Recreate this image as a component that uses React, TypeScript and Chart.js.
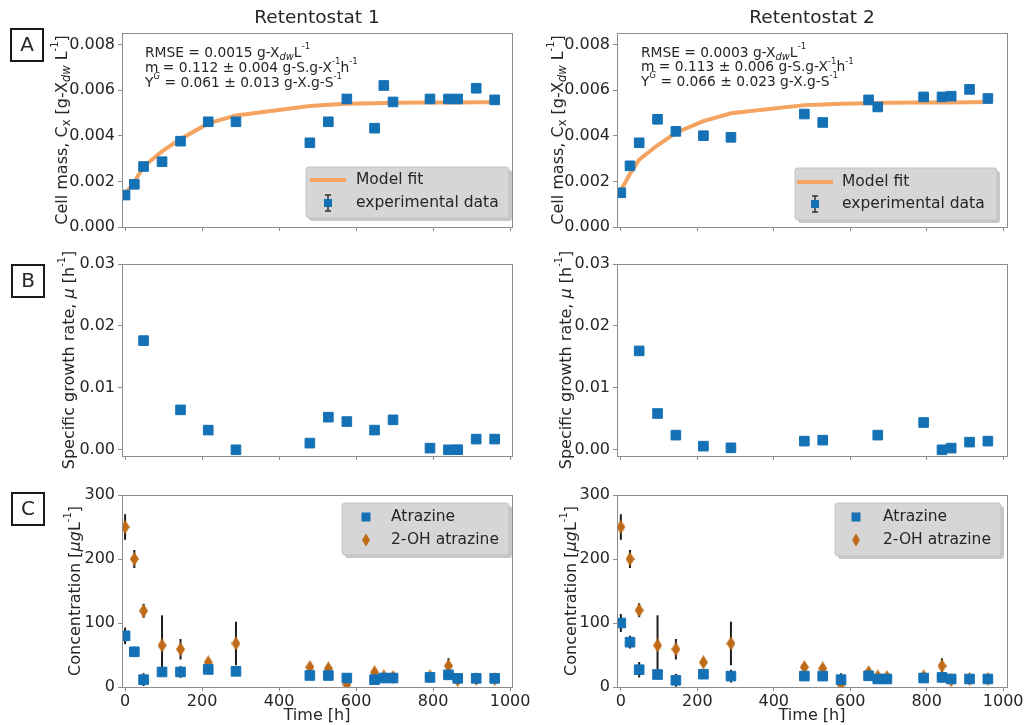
import React, { useEffect, useRef } from 'react';
import { Chart, registerables } from 'chart.js';
Chart.register(...registerables);

const FONT = '"DejaVu Sans", sans-serif';
const TXT = '#262626';
const SPINE = '#8c8c8c';
const BLUE = '#1471b5';
const ORANGE = '#f4a460';
const BROWN = '#bf6a17';

// ---------- data ----------
const TIMES = [0, 24, 48, 96, 144, 216, 288, 480, 528, 576, 648, 672, 696, 792, 840, 864, 912, 960];

const CELL1 = [0.0014, 0.00187, 0.00265, 0.00286, 0.00376, 0.00461, 0.00461, 0.00369, 0.00461, 0.00561, 0.00433, 0.0062, 0.00548, 0.00561, 0.00561, 0.00561, 0.00608, 0.00557];
const FIT1 = [0.00145, 0.00197, 0.00265, 0.00331, 0.00386, 0.00454, 0.00489, 0.0053, 0.00536, 0.0054, 0.00542, 0.00543, 0.00544, 0.00545, 0.00546, 0.00546, 0.00547, 0.00547];

const TIMES_A2 = [0, 24, 48, 96, 144, 216, 288, 480, 528, 648, 672, 792, 840, 864, 912, 960];
const CELL2 = [0.0015, 0.00268, 0.00369, 0.00472, 0.00419, 0.004, 0.00393, 0.00495, 0.00458, 0.00557, 0.00526, 0.0057, 0.0057, 0.00573, 0.00603, 0.00563];
const FIT2 = [0.0016, 0.00233, 0.00295, 0.00358, 0.00413, 0.00464, 0.00498, 0.00534, 0.00537, 0.0054, 0.00542, 0.00543, 0.00544, 0.00545, 0.00546, 0.00546, 0.00547, 0.00548];

const TIMES_B1 = [48, 144, 216, 288, 480, 528, 576, 648, 696, 792, 840, 864, 912, 960];
const MU1 = [0.01763, 0.00645, 0.00318, 0.0, 0.00108, 0.00527, 0.00456, 0.00318, 0.00484, 0.00027, 0.0, 0.00002, 0.00173, 0.00173];
const TIMES_B2 = [48, 96, 144, 216, 288, 480, 528, 672, 792, 840, 864, 912, 960];
const MU2 = [0.01597, 0.00586, 0.00237, 0.00059, 0.00032, 0.0014, 0.00156, 0.00237, 0.00441, 0.0, 0.00027, 0.00124, 0.0014];

const ATR1 = [80, 55, 11.5, 23.5, 23.5, 27.5, 24.5, 18, 18, 14, 11.5, 14, 14, 15, 19, 13.5, 13.5, 13.5];
const ATR1_ERR = [13, 8, 10, 3, 9, 3, 3, 2, 2, 5, 3, 2, 2, 2, 3, 2, 2, 2];
const OH1 = [250, 200, 119, 65, 59, 38.5, 68, 31, 29, 4, 23, 16.5, 15.5, 16.5, 33, 11, 12.5, 12.5];
const OH1_ERR = [20, 14, 11, 47, 16, 5, 34, 5, 5, 8, 6, 4, 6, 4, 12, 5, 5, 5];

const ATR2 = [100, 70, 27, 19.5, 10.5, 20, 17, 17, 17, 11.5, 17.5, 12.5, 12.5, 14, 15, 12.5, 12.5, 12.5];
const ATR2_ERR = [14, 10, 12, 3, 10, 3, 10, 3, 3, 10, 3, 2, 2, 2, 3, 2, 2, 2];
const OH2 = [250, 200, 120, 65, 59, 38.5, 68, 31, 29, 4, 23, 16.5, 15.5, 16.5, 33, 10.5, 12.5, 12.5];
const OH2_ERR = [20, 14, 11, 47, 16, 5, 34, 5, 5, 8, 6, 4, 6, 4, 12, 5, 5, 5];

const X_TICKS = [0, 200, 400, 600, 800, 1000];
const Y_TICKS_A = [0, 0.002, 0.004, 0.006, 0.008];
const Y_TICKS_B = [0, 0.01, 0.02, 0.03];
const Y_TICKS_C = [0, 100, 200, 300];

// ---------- rich text ----------
type Seg = { t: string; sub?: boolean; sup?: boolean; it?: boolean };

function segSize(s: Seg, size: number) {
  return s.sup ? size * 0.62 : s.sub ? size * 0.72 : size;
}
function segFont(s: Seg, size: number) {
  return `${s.it ? 'italic ' : ''}${segSize(s, size)}px ${FONT}`;
}
function richWidth(ctx: CanvasRenderingContext2D, segs: Seg[], size: number) {
  let w = 0;
  for (const s of segs) {
    ctx.font = segFont(s, size);
    w += ctx.measureText(s.t).width;
  }
  return w;
}
function drawRich(ctx: CanvasRenderingContext2D, segs: Seg[], x: number, y: number, size: number, align: 'left' | 'center') {
  ctx.save();
  ctx.textBaseline = 'alphabetic';
  ctx.textAlign = 'left';
  ctx.fillStyle = TXT;
  let cx = align === 'center' ? x - richWidth(ctx, segs, size) / 2 : x;
  const base = y + size * 0.36;
  for (const s of segs) {
    ctx.font = segFont(s, size);
    const dy = s.sub ? size * 0.22 : s.sup ? -size * 0.55 : 0;
    ctx.fillText(s.t, cx, base + dy);
    cx += ctx.measureText(s.t).width;
  }
  ctx.restore();
}

// ---------- markers ----------
function makeDiamond(w: number, h: number, color: string) {
  const c = document.createElement('canvas');
  c.width = w;
  c.height = h;
  const g = c.getContext('2d')!;
  g.fillStyle = color;
  g.beginPath();
  g.moveTo(w / 2, 0);
  g.lineTo(w, h / 2);
  g.lineTo(w / 2, h);
  g.lineTo(0, h / 2);
  g.closePath();
  g.fill();
  return c;
}

type LegendItem = { kind: 'line' | 'sqerr' | 'sq' | 'dia'; label: string; y: number };
type Legend = { x: number; y: number; w: number; h: number; mx: number; tx: number; items: LegendItem[] };

function drawSquare(ctx: CanvasRenderingContext2D, x: number, y: number, s: number) {
  ctx.fillStyle = BLUE;
  ctx.fillRect(x - s / 2, y - s / 2, s, s);
}
function drawDia(ctx: CanvasRenderingContext2D, x: number, y: number, w: number, h: number) {
  ctx.fillStyle = BROWN;
  ctx.beginPath();
  ctx.moveTo(x, y - h / 2);
  ctx.lineTo(x + w / 2, y);
  ctx.lineTo(x, y + h / 2);
  ctx.lineTo(x - w / 2, y);
  ctx.closePath();
  ctx.fill();
}

function roundRectPath(ctx: CanvasRenderingContext2D, x: number, y: number, w: number, h: number, r: number) {
  ctx.beginPath();
  ctx.moveTo(x + r, y);
  ctx.lineTo(x + w - r, y);
  ctx.arcTo(x + w, y, x + w, y + r, r);
  ctx.lineTo(x + w, y + h - r);
  ctx.arcTo(x + w, y + h, x + w - r, y + h, r);
  ctx.lineTo(x + r, y + h);
  ctx.arcTo(x, y + h, x, y + h - r, r);
  ctx.lineTo(x, y + r);
  ctx.arcTo(x, y, x + r, y, r);
  ctx.closePath();
}

function drawLegend(ctx: CanvasRenderingContext2D, L: Legend) {
  ctx.save();
  roundRectPath(ctx, L.x + 3, L.y + 3, L.w, L.h, 3);
  ctx.fillStyle = 'rgba(0,0,0,0.22)';
  ctx.fill();
  roundRectPath(ctx, L.x, L.y, L.w, L.h, 3);
  ctx.fillStyle = '#d6d6d6';
  ctx.fill();
  ctx.strokeStyle = '#c2c2c2';
  ctx.lineWidth = 1;
  ctx.stroke();
  for (const it of L.items) {
    if (it.kind === 'line') {
      ctx.strokeStyle = ORANGE;
      ctx.lineWidth = 4;
      ctx.beginPath();
      ctx.moveTo(L.mx - 18, it.y);
      ctx.lineTo(L.mx + 18, it.y);
      ctx.stroke();
    } else if (it.kind === 'sqerr') {
      ctx.strokeStyle = '#333';
      ctx.lineWidth = 1.5;
      ctx.beginPath();
      ctx.moveTo(L.mx, it.y - 8);
      ctx.lineTo(L.mx, it.y + 8);
      ctx.moveTo(L.mx - 3, it.y - 8);
      ctx.lineTo(L.mx + 3, it.y - 8);
      ctx.moveTo(L.mx - 3, it.y + 8);
      ctx.lineTo(L.mx + 3, it.y + 8);
      ctx.stroke();
      drawSquare(ctx, L.mx, it.y, 8);
    } else if (it.kind === 'sq') {
      drawSquare(ctx, L.mx, it.y, 9);
    } else {
      drawDia(ctx, L.mx, it.y, 8, 13);
    }
    ctx.fillStyle = TXT;
    ctx.font = `15.5px ${FONT}`;
    ctx.textAlign = 'left';
    ctx.textBaseline = 'middle';
    ctx.fillText(it.label, L.tx, it.y);
  }
  ctx.restore();
}

// ---------- panels ----------
type ErrSpec = { ds: number; err: number[] };
type Panel = {
  key: string;
  cx: number; cy: number; cw: number; ch: number;
  l: number; t: number; r: number; b: number;
  xMin: number; xMax: number; yMin: number; yMax: number; yTicks: number[]; yDec: number;
  xLabels: boolean;
  datasets: any[];
  errors?: ErrSpec[];
  yLabel: Seg[]; yLabelX: number;
  letter?: { ch: string; x: number; y: number };
  title?: { text: string; x: number; y: number };
  notes?: { segs: Seg[]; x: number; y: number }[];
  legend?: Legend;
};

const pts = (xs: number[], ys: number[]) => xs.map((x, i) => ({ x, y: ys[i] }));

const squareDs = (label: string, xs: number[], ys: number[]) => ({
  type: 'scatter',
  label,
  data: pts(xs, ys),
  pointStyle: 'rect',
  pointRadius: 6.8,
  backgroundColor: BLUE,
  borderColor: BLUE,
  borderWidth: 1,
  order: 0,
});
const fitDs = (xs: number[], ys: number[]) => ({
  type: 'line',
  label: 'Model fit',
  data: pts(xs, ys),
  borderColor: ORANGE,
  borderWidth: 4,
  pointRadius: 0,
  fill: false,
  tension: 0,
  order: 2,
});

const ylabA: Seg[] = [{ t: 'Cell mass, C' }, { t: 'x', sub: true }, { t: ' [g-X' }, { t: 'dw', sub: true, it: true }, { t: ' L' }, { t: '-1', sup: true }, { t: ']' }];
const ylabB: Seg[] = [{ t: 'Specific growth rate, ' }, { t: 'μ', it: true }, { t: ' [h' }, { t: '-1', sup: true }, { t: ']' }];
const ylabC: Seg[] = [{ t: 'Concentration [' }, { t: 'μg', it: true }, { t: 'L' }, { t: '-1', sup: true }, { t: ']' }];

const notes = (rmse: string, m: string, mErr: string, y: string, yErr: string): Seg[][] => [
  [{ t: `RMSE = ${rmse} g-X` }, { t: 'dw', sub: true, it: true }, { t: 'L' }, { t: '-1', sup: true }],
  [{ t: `m = ${m} ± ${mErr} g-S.g-X` }, { t: '-1', sup: true }, { t: 'h' }, { t: '-1', sup: true }],
  [{ t: 'Y' }, { t: 'G', sup: true, it: true }, { t: ` = ${y} ± ${yErr} g-X.g-S` }, { t: '-1', sup: true }],
];

function buildPanels(): Panel[] {
  const dia = makeDiamond(9, 14, BROWN);
  const LC = { cx: 0, cw: 545, l: 122, r: 512, xMin: -8, xMax: 1005 };
  const RC = { cx: 525, cw: 508, l: 617, r: 1007, xMin: -10, xMax: 1010 };
  const RA = { cy: 0, ch: 240, t: 33, b: 227, yMin: 0, yMax: 0.0085, yTicks: Y_TICKS_A, yDec: 3, xLabels: false };
  const RB = { cy: 240, ch: 230, t: 264, b: 456, yMin: -0.001, yMax: 0.03, yTicks: Y_TICKS_B, yDec: 2, xLabels: false };
  const RCc = { cy: 470, ch: 255, t: 495, b: 687, yMin: 0, yMax: 300, yTicks: Y_TICKS_C, yDec: 0, xLabels: true };
  const diaDs = (xs: number[], ys: number[]) => ({
    type: 'scatter', label: '2-OH atrazine', data: pts(xs, ys), pointStyle: dia, pointRadius: 7, order: 0,
  });
  const n1 = notes('0.0015', '0.112', '0.004', '0.061', '0.013');
  const n2 = notes('0.0003', '0.113', '0.006', '0.066', '0.023');
  return [
    {
      key: 'a1', ...LC, ...RA,
      datasets: [squareDs('experimental data', TIMES, CELL1), fitDs(TIMES, FIT1)],
      yLabel: ylabA, yLabelX: 61,
      letter: { ch: 'A', x: 11, y: 29 },
      title: { text: 'Retentostat 1', x: 317, y: 18 },
      notes: n1.map((s, i) => ({ segs: s, x: 145, y: 52 + i * 15 })),
      legend: { x: 306, y: 167, w: 203, h: 51, mx: 328, tx: 356, items: [
        { kind: 'line', label: 'Model fit', y: 180 },
        { kind: 'sqerr', label: 'experimental data', y: 203 },
      ] },
    },
    {
      key: 'a2', ...RC, ...RA,
      datasets: [squareDs('experimental data', TIMES_A2, CELL2), fitDs(TIMES, FIT2)],
      yLabel: ylabA, yLabelX: 557,
      title: { text: 'Retentostat 2', x: 812, y: 18 },
      notes: n2.map((s, i) => ({ segs: s, x: 641, y: 52 + i * 14.5 })),
      legend: { x: 795, y: 168, w: 202, h: 52, mx: 815, tx: 842, items: [
        { kind: 'line', label: 'Model fit', y: 182 },
        { kind: 'sqerr', label: 'experimental data', y: 204 },
      ] },
    },
    {
      key: 'b1', ...LC, ...RB,
      datasets: [squareDs('mu', TIMES_B1, MU1)],
      yLabel: ylabB, yLabelX: 68,
      letter: { ch: 'B', x: 12, y: 265 },
    },
    {
      key: 'b2', ...RC, ...RB,
      datasets: [squareDs('mu', TIMES_B2, MU2)],
      yLabel: ylabB, yLabelX: 565,
    },
    {
      key: 'c1', ...LC, ...RCc,
      datasets: [squareDs('Atrazine', TIMES, ATR1), diaDs(TIMES, OH1)],
      errors: [{ ds: 0, err: ATR1_ERR }, { ds: 1, err: OH1_ERR }],
      yLabel: ylabC, yLabelX: 74,
      letter: { ch: 'C', x: 12, y: 493 },
      legend: { x: 342, y: 503, w: 167, h: 52, mx: 366, tx: 391, items: [
        { kind: 'sq', label: 'Atrazine', y: 517 },
        { kind: 'dia', label: '2-OH atrazine', y: 540 },
      ] },
    },
    {
      key: 'c2', ...RC, ...RCc,
      datasets: [squareDs('Atrazine', TIMES, ATR2), diaDs(TIMES, OH2)],
      errors: [{ ds: 0, err: ATR2_ERR }, { ds: 1, err: OH2_ERR }],
      yLabel: ylabC, yLabelX: 570,
      legend: { x: 835, y: 503, w: 166, h: 53, mx: 856, tx: 883, items: [
        { kind: 'sq', label: 'Atrazine', y: 517 },
        { kind: 'dia', label: '2-OH atrazine', y: 540 },
      ] },
    },
  ] as Panel[];
}

function buildConfig(p: Panel): any {
  const decor = {
    id: 'decor_' + p.key,
    beforeDatasetsDraw(chart: any) {
      if (!p.errors) return;
      const ctx: CanvasRenderingContext2D = chart.ctx;
      const xs = chart.scales.x;
      const ys = chart.scales.y;
      const a = chart.chartArea;
      ctx.save();
      ctx.beginPath();
      ctx.rect(a.left, a.top, a.right - a.left, a.bottom - a.top);
      ctx.clip();
      ctx.strokeStyle = '#1c1c1c';
      ctx.lineWidth = 2;
      for (const e of p.errors) {
        const data = chart.data.datasets[e.ds].data;
        data.forEach((pt: any, i: number) => {
          const x = xs.getPixelForValue(pt.x);
          ctx.beginPath();
          ctx.moveTo(x, ys.getPixelForValue(pt.y - e.err[i]));
          ctx.lineTo(x, ys.getPixelForValue(pt.y + e.err[i]));
          ctx.stroke();
        });
      }
      ctx.restore();
    },
    afterDraw(chart: any) {
      const ctx: CanvasRenderingContext2D = chart.ctx;
      const a = chart.chartArea;
      ctx.save();
      ctx.strokeStyle = SPINE;
      ctx.lineWidth = 1;
      ctx.strokeRect(Math.round(a.left) + 0.5, Math.round(a.top) + 0.5, Math.round(a.right - a.left), Math.round(a.bottom - a.top));
      ctx.translate(-p.cx, -p.cy);
      ctx.save();
      ctx.translate(p.yLabelX, (p.t + p.b) / 2);
      ctx.rotate(-Math.PI / 2);
      drawRich(ctx, p.yLabel, 0, 0, 16, 'center');
      ctx.restore();
      if (p.title) {
        ctx.fillStyle = TXT;
        ctx.font = `18.5px ${FONT}`;
        ctx.textAlign = 'center';
        ctx.textBaseline = 'middle';
        ctx.fillText(p.title.text, p.title.x, p.title.y);
      }
      if (p.letter) {
        ctx.strokeStyle = '#1a1a1a';
        ctx.lineWidth = 2;
        ctx.strokeRect(p.letter.x, p.letter.y, 32, 32);
        ctx.fillStyle = TXT;
        ctx.font = `20px ${FONT}`;
        ctx.textAlign = 'center';
        ctx.textBaseline = 'middle';
        ctx.fillText(p.letter.ch, p.letter.x + 16, p.letter.y + 17);
      }
      if (p.notes) {
        for (const n of p.notes) drawRich(ctx, n.segs, n.x, n.y, 13.8, 'left');
      }
      if (p.legend) drawLegend(ctx, p.legend);
      ctx.restore();
    },
  };

  const fixW = p.l - p.cx;
  const fixH = p.cy + p.ch - p.b;
  return {
    type: 'scatter',
    data: { datasets: p.datasets },
    options: {
      responsive: false,
      maintainAspectRatio: false,
      animation: false,
      events: [],
      layout: { padding: { left: 0, top: p.t - p.cy, right: p.cx + p.cw - p.r, bottom: 0 } },
      plugins: { legend: { display: false }, tooltip: { enabled: false }, title: { display: false } },
      scales: {
        x: {
          type: 'linear',
          position: 'bottom',
          min: p.xMin,
          max: p.xMax,
          grid: { display: true, drawOnChartArea: false, drawTicks: true, tickLength: 4, color: SPINE, lineWidth: 1 },
          border: { display: false },
          afterBuildTicks: (s: any) => {
            s.ticks = X_TICKS.map((v) => ({ value: v }));
          },
          ticks: {
            autoSkip: false,
            maxRotation: 0,
            padding: 1,
            color: TXT,
            font: { family: FONT, size: 16 },
            callback: (v: any) => (p.xLabels ? String(v) : ''),
          },
          title: p.xLabels
            ? { display: true, text: 'Time [h]', color: TXT, font: { family: FONT, size: 16, lineHeight: 1.2 }, padding: { top: 0, bottom: 0 } }
            : { display: false },
          afterFit: (s: any) => {
            s.height = fixH;
            s.paddingLeft = 0;
            s.paddingRight = 0;
          },
        },
        y: {
          type: 'linear',
          position: 'left',
          min: p.yMin,
          max: p.yMax,
          grid: { display: true, drawOnChartArea: false, drawTicks: true, tickLength: 4, color: SPINE, lineWidth: 1 },
          border: { display: false },
          afterBuildTicks: (s: any) => {
            s.ticks = p.yTicks.map((v) => ({ value: v }));
          },
          ticks: {
            autoSkip: false,
            padding: 3,
            color: TXT,
            font: { family: FONT, size: 16 },
            callback: (v: any) => Number(v).toFixed(p.yDec),
          },
          afterFit: (s: any) => {
            s.width = fixW;
            s.paddingTop = 0;
            s.paddingBottom = 0;
          },
        },
      },
    },
    plugins: [decor],
  };
}

function PanelChart({ p }: { p: Panel }) {
  const ref = useRef<HTMLCanvasElement>(null);
  useEffect(() => {
    const chart = new Chart(ref.current!, buildConfig(p));
    return () => chart.destroy();
  }, [p]);
  return (
    <canvas
      ref={ref}
      width={p.cw}
      height={p.ch}
      style={{ position: 'absolute', left: p.cx, top: p.cy, width: p.cw, height: p.ch }}
    />
  );
}

const PANELS = buildPanels();

export default function App() {
  return (
    <div style={{ position: 'fixed', left: 0, top: 0, width: 1033, height: 725, background: '#fff', overflow: 'hidden' }}>
      {PANELS.map((p) => (
        <PanelChart key={p.key} p={p} />
      ))}
    </div>
  );
}
